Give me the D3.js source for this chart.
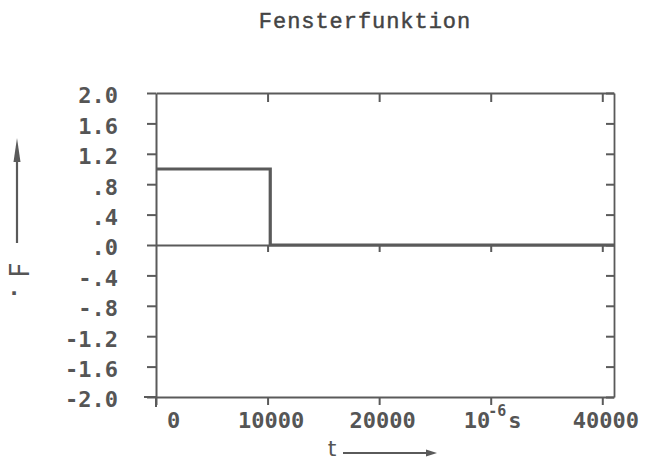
<!DOCTYPE html>
<html><head><meta charset="utf-8">
<script src="https://cdn.jsdelivr.net/npm/d3@7"></script>
<style>
html,body{margin:0;padding:0;background:#fff;}
svg{display:block;}
</style></head>
<body>
<svg id="chart" width="645" height="465"></svg>
<script>
// ---- data ----
const title = "Fensterfunktion";
const tValues = [0, 10240, 10240, 41050];
const fValues = [1, 1, 0, 0];
const xTicks = [0, 10000, 20000, 30000, 40000];
const xTickLabels = ["0", "10000", "20000", "", "40000"];
const yTicks = [2.0, 1.6, 1.2, 0.8, 0.4, 0.0, -0.4, -0.8, -1.2, -1.6, -2.0];
const yTickLabels = ["2.0", "1.6", "1.2", ".8", ".4", ".0", "-.4", "-.8", "-1.2", "-1.6", "-2.0"];
const xDomain = [0, 41050];
const yDomain = [-2, 2];

const ink = "#5a5a5a";
const textInk = "#555";
const mono = "'DejaVu Sans Mono', monospace";

const svg = d3.select("#chart");
const L = 156, R = 614, T = 93, B = 397;
const x = d3.scaleLinear().domain(xDomain).range([L, R]);
const y = d3.scaleLinear().domain(yDomain).range([B, T]);

// title
svg.append("text").attr("x", 365).attr("y", 28).attr("text-anchor", "middle")
  .attr("font-family", "'Liberation Mono', 'Courier New', monospace").attr("font-size", 22)
  .attr("letter-spacing", 0.95).attr("fill", "#444").attr("stroke", "#444").attr("stroke-width", 0.45)
  .text(title);

function styleAxis(g) {
  g.selectAll("path.domain").attr("stroke", ink).attr("stroke-width", 2);
  g.selectAll(".tick line").attr("stroke", ink).attr("stroke-width", 2);
}

// left axis
const gL = svg.append("g").attr("transform", `translate(${L},0)`)
  .call(d3.axisLeft(y).tickValues(yTicks).tickSize(9).tickSizeOuter(0)
    .tickFormat((d, i) => yTickLabels[i]));
styleAxis(gL);
gL.selectAll(".tick text").attr("x", -38).attr("dy", "0.45em")
  .attr("font-family", mono).attr("font-weight", "bold").attr("font-size", 22).attr("fill", textInk);

// right axis
const gR = svg.append("g").attr("transform", `translate(${R},0)`)
  .call(d3.axisRight(y).tickValues(yTicks).tickSize(-8).tickSizeOuter(0).tickFormat(""));
styleAxis(gR);
gR.selectAll("path.domain").attr("stroke-width", 1.8);

// top axis
const gT = svg.append("g").attr("transform", `translate(0,${T})`)
  .call(d3.axisTop(x).tickValues(xTicks.slice(1)).tickSize(-9).tickSizeOuter(0).tickFormat(""));
styleAxis(gT);

// bottom axis
const gB = svg.append("g").attr("transform", `translate(0,${B})`)
  .call(d3.axisBottom(x).tickValues(xTicks).tickSize(8).tickSizeOuter(0)
    .tickFormat((d, i) => xTickLabels[i]));
styleAxis(gB);
gB.selectAll(".tick text").attr("y", 31).attr("dy", 0)
  .attr("dx", (d, i) => i === 0 ? 17 : 3)
  .attr("font-family", mono).attr("font-weight", "bold").attr("font-size", 22).attr("fill", textInk);

// extend left axis below and bottom axis left (plotter cross)
svg.append("line").attr("x1", L).attr("x2", L).attr("y1", B).attr("y2", B + 10)
  .attr("stroke", ink).attr("stroke-width", 2);
svg.append("line").attr("x1", L - 12).attr("x2", L).attr("y1", B).attr("y2", B)
  .attr("stroke", ink).attr("stroke-width", 2);

// zero axis
const gZ = svg.append("g").attr("transform", `translate(0,${y(0)})`)
  .call(d3.axisBottom(x).tickValues(xTicks.slice(1)).tickSize(7).tickSizeOuter(0).tickFormat(""));
styleAxis(gZ);

// unit label 10^-6 s at the 30000 position
const ux = x(30000);
const unit = svg.append("text").attr("x", ux - 27).attr("y", B + 31)
  .attr("font-family", mono).attr("font-weight", "bold").attr("font-size", 22).attr("fill", textInk);
unit.append("tspan").text("10");
unit.append("tspan").attr("font-size", 15).attr("dy", -12).attr("dx", -2).text("-6");
unit.append("tspan").attr("dy", 12).attr("dx", 2).text("s");

// data line
const line = d3.line().x((d, i) => x(tValues[i])).y((d, i) => y(fValues[i]));
svg.append("path").datum(fValues).attr("d", line)
  .attr("fill", "none").attr("stroke", ink).attr("stroke-width", 3.2).attr("stroke-linejoin", "miter");

// x-axis label with arrow
svg.append("text").attr("x", 332).attr("y", 456).attr("text-anchor", "middle")
  .attr("font-family", "'DejaVu Sans', sans-serif").attr("font-size", 22).attr("fill", textInk).text("t");
svg.append("line").attr("x1", 343).attr("x2", 428).attr("y1", 453).attr("y2", 453)
  .attr("stroke", ink).attr("stroke-width", 2.2);
svg.append("path").attr("d", "M426,449.5 L437,453 L426,456.5 Z").attr("fill", ink);

// y-axis label with arrow
svg.append("line").attr("x1", 17).attr("x2", 17).attr("y1", 150).attr("y2", 243)
  .attr("stroke", ink).attr("stroke-width", 2.2);
svg.append("path").attr("d", "M13.5,162 L17,138 L20.5,162 Z").attr("fill", ink);
svg.append("text").attr("transform", "translate(29,270) rotate(-90)").attr("text-anchor", "middle")
  .attr("font-family", "'DejaVu Sans', sans-serif").attr("font-size", 26).attr("fill", textInk).text("F");
svg.append("text").attr("x", 14).attr("y", 300).attr("text-anchor", "middle")
  .attr("font-family", "'DejaVu Sans', sans-serif").attr("font-size", 20).attr("font-weight", "bold").attr("fill", textInk).text("·");
</script>
</body></html>
